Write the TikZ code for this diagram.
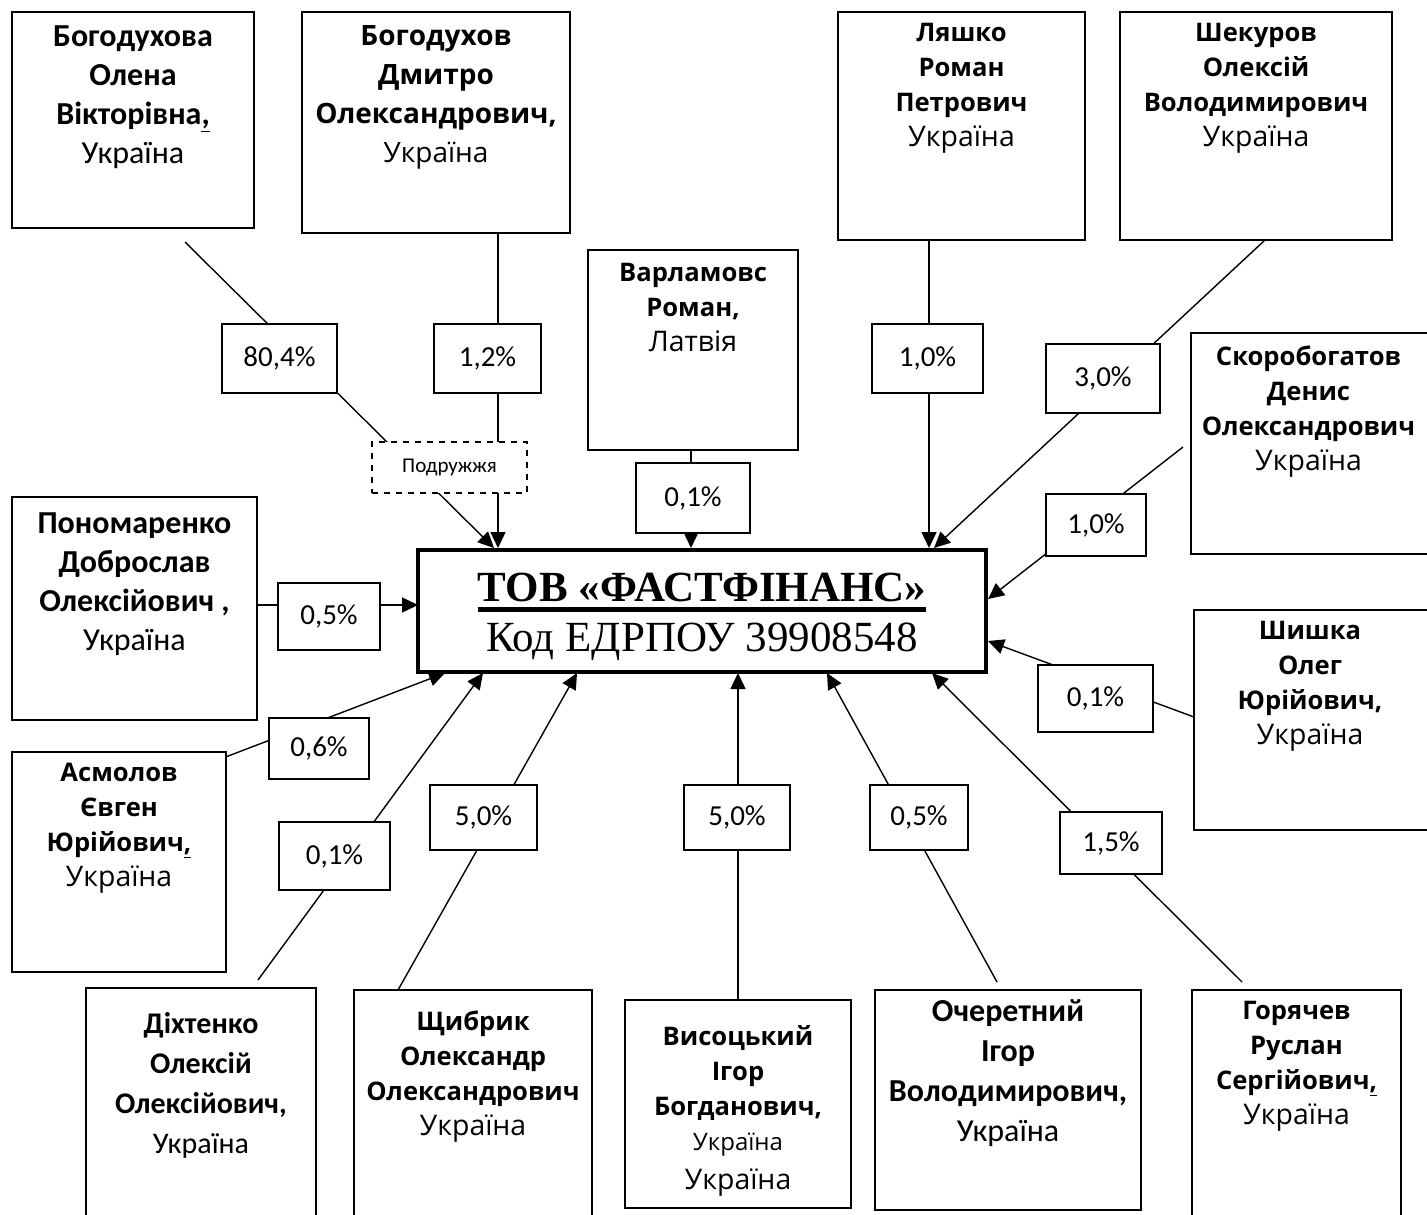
\documentclass[tikz,border=0pt]{standalone}
\usepackage{fontspec}
\setmainfont{Open Sans}
\newfontfamily\calfont{Carlito}
\newfontfamily\tnrfont{Liberation Serif}
\usetikzlibrary{arrows.meta,backgrounds}
\newcommand\fOS{\fontsize{12.8}{17.5}\selectfont}
\newcommand\fOSw{\fontsize{14}{19.5}\selectfont}
\newcommand\UA{{\fontsize{14.2}{17.5}\selectfont Україна}}
\newcommand\fCA{\calfont\fontsize{16}{19.5}\selectfont}
\newcommand\fCAw{\calfont\fontsize{15}{20}\selectfont}
\newcommand\fCAx{\calfont\fontsize{16}{20}\selectfont}
\newsavebox\ulbox
\newcommand\thickul[1]{\sbox\ulbox{#1}\leavevmode\rlap{\rule[-5pt]{\wd\ulbox}{2.5pt}}\usebox\ulbox}
\tikzset{
  pbox/.style={draw, line width=1.3pt, fill=white, inner sep=0pt},
  pct/.style={draw, line width=0.7pt, fill=white, inner sep=0pt, font=\calfont\fontsize{14.5}{17}\selectfont},
  txt/.style={anchor=north, align=center, inner sep=0pt},
  arr/.style={line width=0.7pt, -{Triangle[length=8pt,width=7.5pt]}},
}
\begin{document}
\begin{tikzpicture}[x=0.5pt,y=-0.5pt]
\useasboundingbox (0,0) rectangle (1427,1214);

% central box
\node[draw, line width=1.6pt, fill=white, minimum width=284pt, minimum height=61pt, inner sep=0pt] (ctr) at (702,611) {};
\node[align=center, inner sep=0pt, font=\tnrfont\fontsize{21.5}{25}\selectfont] (ctrtxt) at (702,617)
  {\thickul{\bfseries ТОВ «ФАСТФІНАНС»}\\Код ЕДРПОУ 39908548};

% person boxes
\node[pbox, minimum width=121pt, minimum height=108pt] (p1) at (133,120) {};
\node[txt, font=\fCA] (t1) at (133,25) {\bfseries Богодухова\\\bfseries Олена\\\bfseries Вікторівна\underline{,}\\Україна};

\node[pbox, minimum width=134pt, minimum height=110.5pt] (p2) at (436,122.5) {};
\node[txt, font=\fOSw] (t2) at (436,25) {\bfseries Богодухов\\\bfseries Дмитро\\\bfseries Олександрович,\\Україна};

\node[pbox, minimum width=123.5pt, minimum height=114pt] (p3) at (961.5,126) {};
\node[txt, font=\fOS] (t3) at (961.5,23) {\bfseries Ляшко\\\bfseries Роман\\\bfseries Петрович\\\UA};

\node[pbox, minimum width=136pt, minimum height=114pt] (p4) at (1256,126) {};
\node[txt, font=\fOS] (t4) at (1256,23) {\bfseries Шекуров\\\bfseries Олексій\\\bfseries Володимирович\\\UA};

\node[pbox, minimum width=105pt, minimum height=100pt] (p5) at (693,350) {};
\node[txt, font=\fOS] (t5) at (693,263) {\bfseries Варламовс\\\bfseries Роман,\\{\fontsize{14.2}{17.5}\selectfont Латвія}};

\node[pbox, minimum width=120pt, minimum height=110.5pt] (p6) at (1311,443.5) {};
\node[txt, font=\fOS] (t6) at (1308.5,345) {\bfseries Скоробогатов\\\bfseries Денис\\\bfseries Олександрович\\\UA};

\node[pbox, minimum width=122.5pt, minimum height=111.5pt] (p7) at (134.5,608.5) {};
\node[txt, font=\fCA] (t7) at (134.5,512) {\bfseries Пономаренко\\\bfseries Доброслав\\\bfseries Олексійович ,\\Україна};

\node[pbox, minimum width=107pt, minimum height=110pt] (p8) at (119,862) {};
\node[txt, font=\fOS] (t8) at (119,763) {\bfseries Асмолов\\\bfseries Євген\\\bfseries Юрійович\underline{,}\\\UA};

\node[pbox, minimum width=120pt, minimum height=110pt] (p9) at (1314,720) {};
\node[txt, font=\fOS] (t9) at (1310,621) {\bfseries Шишка\\\bfseries Олег\\\bfseries Юрійович,\\\UA};

\node[pbox, minimum width=115pt, minimum height=116pt] (p10) at (201,1104) {};
\node[txt, font=\fCAw] (t10) at (201,1012) {\bfseries Діхтенко\\\bfseries Олексій\\\bfseries Олексійович,\\Україна};

\node[pbox, minimum width=119pt, minimum height=115pt] (p11) at (473,1105) {};
\node[txt, font=\fOS] (t11) at (473,1010) {\bfseries Щибрик\\\bfseries Олександр\\\bfseries Олександрович\\\UA};

\node[pbox, minimum width=113pt, minimum height=104pt] (p12) at (738,1104) {};
\node[txt, font=\fOS] (t12) at (738,1025) {\bfseries Висоцький\\\bfseries Ігор\\\bfseries Богданович,\\{\fontsize{12}{17.5}\selectfont Україна}\\[2pt]\UA};

\node[pbox, minimum width=133pt, minimum height=110pt] (p13) at (1008,1100) {};
\node[txt, font=\fCAx] (t13) at (1008,999) {\bfseries Очеретний\\\bfseries Ігор\\\bfseries Володимирович,\\Україна};

\node[pbox, minimum width=104.5pt, minimum height=115pt] (p14) at (1296.5,1105) {};
\node[txt, font=\fOS] (t14) at (1296.5,1001) {\bfseries Горячев\\\bfseries Руслан\\\bfseries Сергійович\underline{,}\\\UA};

% percentage boxes
\node[pct, minimum width=57.5pt, minimum height=34.5pt] (q1) at (279.5,358.5) {80,4\%};
\node[pct, minimum width=53.5pt, minimum height=34.5pt] (q2) at (487.5,358.5) {1,2\%};
\node[pct, minimum width=55.5pt, minimum height=34.5pt] (q3) at (927.5,358.5) {1,0\%};
\node[pct, minimum width=57pt, minimum height=34.5pt] (q4) at (1103,378.5) {3,0\%};
\node[pct, minimum width=57pt, minimum height=35pt] (q5) at (693,498) {0,1\%};
\node[pct, minimum width=50pt, minimum height=31pt] (q6) at (1096,525) {1,0\%};
\node[pct, minimum width=51pt, minimum height=33.5pt] (q7) at (329,616.5) {0,5\%};
\node[pct, minimum width=57.5pt, minimum height=33.5pt] (q8) at (1095.5,698.5) {0,1\%};
\node[pct, minimum width=50pt, minimum height=30.5pt] (q9) at (319,748.5) {0,6\%};
\node[pct, minimum width=55.5pt, minimum height=34pt] (q10) at (334.5,856) {0,1\%};
\node[pct, minimum width=53.5pt, minimum height=32.5pt] (q11) at (483.5,817.5) {5,0\%};
\node[pct, minimum width=53pt, minimum height=32.5pt] (q12) at (737,817.5) {5,0\%};
\node[pct, minimum width=49pt, minimum height=32.5pt] (q13) at (919,817.5) {0,5\%};
\node[pct, minimum width=51pt, minimum height=31pt] (q14) at (1111,843) {1,5\%};

% spouses box
\node[draw, dashed, line width=0.6pt, fill=white, minimum width=77.5pt, minimum height=25.5pt, inner sep=0pt,
      font=\calfont\fontsize{10.5}{12}\selectfont] (sp) at (449.5,467.5) {Подружжя};

% connector end points
\coordinate (s1) at (185,242);   \coordinate (e1) at (494,548);
\coordinate (s2) at (498,233);   \coordinate (e2) at (498,548);
\coordinate (s3) at (691,450);   \coordinate (e3) at (691,548);
\coordinate (s4) at (929,240);   \coordinate (e4) at (929,548);
\coordinate (s5) at (1265,240);  \coordinate (e5) at (934,548);
\coordinate (s6) at (1183,447);  \coordinate (e6) at (988,599);
\coordinate (s7) at (1194,717);  \coordinate (e7) at (988,641);
\coordinate (s8) at (257,605);   \coordinate (e8) at (418,605);
\coordinate (s9) at (223,758);   \coordinate (e9) at (445,673);
\coordinate (s10) at (258,980);  \coordinate (e10) at (483,673);
\coordinate (s11) at (398,990);  \coordinate (e11) at (577,673);
\coordinate (s12) at (738,1000); \coordinate (e12) at (738,673);
\coordinate (s13) at (997,982);  \coordinate (e13) at (827,673);
\coordinate (s14) at (1242,982); \coordinate (e14) at (932,673);

\begin{scope}[on background layer]
\fill[white] (0,0) rectangle (1427,1214);
\foreach \i in {1,...,14} { \draw[arr] (s\i) -- (e\i); }
\end{scope}
\end{tikzpicture}
\end{document}
